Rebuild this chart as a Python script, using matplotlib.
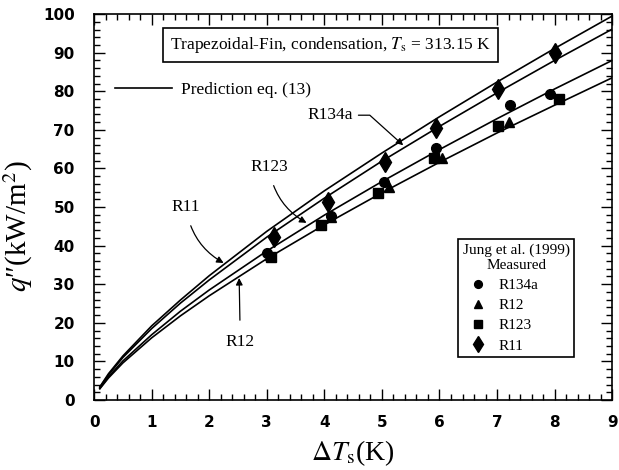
import matplotlib
matplotlib.use("Agg")
import matplotlib.pyplot as plt
from matplotlib.lines import Line2D
from matplotlib.ticker import MultipleLocator

plt.rcParams['font.family'] = 'Liberation Serif'
plt.rcParams['mathtext.fontset'] = 'stix'

# prediction curves eq. (13)
dT = [0.1, 0.25, 0.5, 1, 1.5, 2, 3, 4, 5, 6, 7, 8, 9]
q_R11 = [3.4, 6.8, 11.4, 19.2, 25.9, 32.2, 43.7, 54.2, 64.0, 73.4, 82.4, 91.1, 99.5]
q_R134a = [3.3, 6.5, 11.0, 18.5, 25.1, 31.1, 42.2, 52.3, 61.9, 70.9, 79.6, 88.0, 96.1]
q_R123 = [3.0, 6.0, 10.1, 16.9, 23.0, 28.5, 38.6, 47.9, 56.6, 64.9, 72.9, 80.6, 88.0]
q_R12 = [2.9, 5.7, 9.6, 16.1, 21.8, 27.0, 36.6, 45.4, 53.7, 61.6, 69.2, 76.4, 83.5]

# measured, Jung et al. (1999)
m134a_x = [3.0, 4.12, 5.04, 5.94, 7.22, 7.92]
m134a_y = [38.0, 47.7, 56.6, 65.2, 76.4, 79.4]
m12_x = [3.05, 4.12, 5.13, 6.05, 7.2]
m12_y = [37.6, 47.3, 55.3, 62.6, 72.1]
m123_x = [3.07, 3.94, 4.94, 5.91, 7.01, 8.07]
m123_y = [37.1, 45.3, 53.7, 62.6, 71.0, 77.9]
m11_x = [3.13, 4.07, 5.06, 5.94, 7.01, 8.0]
m11_y = [42.2, 51.4, 61.6, 70.5, 80.7, 89.8]

fig = plt.figure(figsize=(6.19, 4.70), dpi=100)
ax = fig.add_axes([0.152, 0.149, 0.837, 0.821])

for q in [q_R11, q_R134a, q_R123, q_R12]:
    ax.plot(dT, q, color='k', lw=1.2)

ax.plot(m134a_x, m134a_y, 'o', color='k', ms=7, ls='none', label='R134a')
ax.plot(m12_x, m12_y, '^', color='k', ms=6.5, ls='none', label='R12')
ax.plot(m123_x, m123_y, 's', color='k', ms=6.5, ls='none', label='R123')
ax.plot(m11_x, m11_y, 'd', color='k', ms=10, ls='none', label='R11')

ax.set_xlim(0, 9)
ax.set_ylim(0, 100)
ax.xaxis.set_major_locator(MultipleLocator(1))
ax.xaxis.set_minor_locator(MultipleLocator(0.2))
ax.yaxis.set_major_locator(MultipleLocator(10))
ax.yaxis.set_minor_locator(MultipleLocator(2))
ax.tick_params(which='both', direction='in', top=True, right=True, width=1.0)
ax.tick_params(which='major', length=8)
ax.tick_params(which='minor', length=4.3)
for lab in ax.get_xticklabels() + ax.get_yticklabels():
    lab.set_family('DejaVu Sans')
    lab.set_fontweight('bold')
    lab.set_fontsize(11)
ax.tick_params(axis='x', pad=11)
ax.tick_params(axis='y', pad=14)
for s in ax.spines.values():
    s.set_linewidth(1.2)

ax.set_xlabel(r'$\Delta T_\mathrm{s}$(K)', fontsize=20, labelpad=6)
ax.set_ylabel('$q$\u2033(kW/m$^2$)', fontsize=21)
ax.yaxis.set_label_coords(-0.115, 0.45)

ax.text(4.1, 92.1, r'Trapezoidal-Fin, condensation, $T_\mathrm{s}$ = 313.15 K',
        fontsize=12.5, ha='center', va='center',
        bbox=dict(boxstyle='square,pad=0.4', fc='white', ec='k', lw=1.2))

ap = dict(arrowstyle='-|>', color='k', lw=0.9, mutation_scale=10)
ax.annotate('R11', xy=(2.25, 35.5), xytext=(1.6, 50), fontsize=12.5,
            ha='center', va='center',
            arrowprops=dict(ap, connectionstyle='arc3,rad=0.25', shrinkA=6, shrinkB=0))
ax.annotate('R123', xy=(3.69, 45.9), xytext=(3.04, 60.4), fontsize=12.5,
            ha='center', va='center',
            arrowprops=dict(ap, connectionstyle='arc3,rad=0.25', shrinkA=6, shrinkB=0))
ax.annotate('R12', xy=(2.52, 31.6), xytext=(2.54, 15), fontsize=12.5,
            ha='center', va='center',
            arrowprops=dict(ap, shrinkA=8, shrinkB=0))
ax.annotate('R134a', xy=(5.37, 66), xytext=(4.1, 73.8), fontsize=12.5,
            ha='center', va='center',
            arrowprops=dict(ap, connectionstyle='angle,angleA=0,angleB=138,rad=0',
                            shrinkA=2, shrinkB=0))

pred = ax.legend([Line2D([], [], color='k', lw=1.2)], ['Prediction eq. (13)'],
                 loc='center left', bbox_to_anchor=(0.04, 0.803), frameon=False,
                 fontsize=12.5, handlelength=3.3, handletextpad=0.5,
                 borderpad=0, borderaxespad=0)
ax.add_artist(pred)

leg = ax.legend(loc='lower left', bbox_to_anchor=(0.703, 0.111),
                title='Jung et al. (1999)\nMeasured', fontsize=11,
                title_fontsize=11, fancybox=False, edgecolor='k',
                framealpha=1, handlelength=2.0, handletextpad=0.3,
                labelspacing=0.42, borderaxespad=0, borderpad=0.3,
                markerscale=0.8, alignment='left')
leg.get_title().set_multialignment('center')
leg.get_frame().set_linewidth(1.2)

fig.savefig('out.png', dpi=100)
